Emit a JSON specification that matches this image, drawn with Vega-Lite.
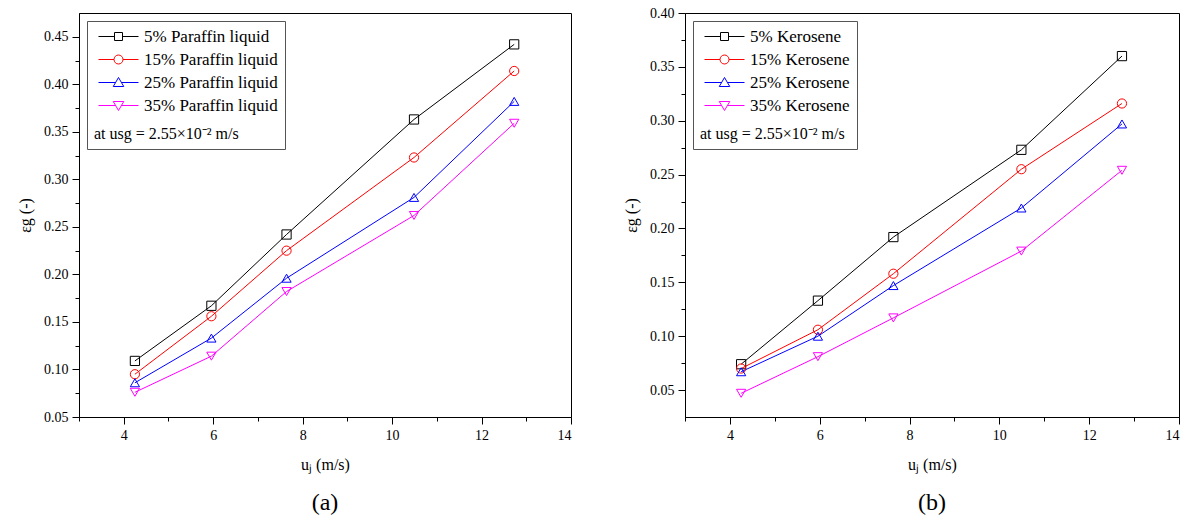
{
  "$schema": "https://vega.github.io/schema/vega-lite/v6.json",
  "padding": {"left": 17, "top": 5, "right": 0, "bottom": 5},
  "background": "white",
  "datasets": {
    "paraffin": [
      {"uj": 4.25, "eg": 0.109, "series": "5% Paraffin liquid"},
      {"uj": 5.96, "eg": 0.167, "series": "5% Paraffin liquid"},
      {"uj": 7.64, "eg": 0.242, "series": "5% Paraffin liquid"},
      {"uj": 10.49, "eg": 0.363, "series": "5% Paraffin liquid"},
      {"uj": 12.73, "eg": 0.442, "series": "5% Paraffin liquid"},
      {"uj": 4.25, "eg": 0.095, "series": "15% Paraffin liquid"},
      {"uj": 5.96, "eg": 0.156, "series": "15% Paraffin liquid"},
      {"uj": 7.64, "eg": 0.225, "series": "15% Paraffin liquid"},
      {"uj": 10.49, "eg": 0.323, "series": "15% Paraffin liquid"},
      {"uj": 12.73, "eg": 0.414, "series": "15% Paraffin liquid"},
      {"uj": 4.25, "eg": 0.086, "series": "25% Paraffin liquid"},
      {"uj": 5.96, "eg": 0.133, "series": "25% Paraffin liquid"},
      {"uj": 7.64, "eg": 0.196, "series": "25% Paraffin liquid"},
      {"uj": 10.49, "eg": 0.281, "series": "25% Paraffin liquid"},
      {"uj": 12.73, "eg": 0.382, "series": "25% Paraffin liquid"},
      {"uj": 4.25, "eg": 0.076, "series": "35% Paraffin liquid"},
      {"uj": 5.96, "eg": 0.114, "series": "35% Paraffin liquid"},
      {"uj": 7.64, "eg": 0.182, "series": "35% Paraffin liquid"},
      {"uj": 10.49, "eg": 0.262, "series": "35% Paraffin liquid"},
      {"uj": 12.73, "eg": 0.359, "series": "35% Paraffin liquid"}
    ],
    "kerosene": [
      {"uj": 4.25, "eg": 0.074, "series": "5% Kerosene"},
      {"uj": 5.96, "eg": 0.133, "series": "5% Kerosene"},
      {"uj": 7.64, "eg": 0.192, "series": "5% Kerosene"},
      {"uj": 10.49, "eg": 0.273, "series": "5% Kerosene"},
      {"uj": 12.73, "eg": 0.360, "series": "5% Kerosene"},
      {"uj": 4.25, "eg": 0.070, "series": "15% Kerosene"},
      {"uj": 5.96, "eg": 0.106, "series": "15% Kerosene"},
      {"uj": 7.64, "eg": 0.158, "series": "15% Kerosene"},
      {"uj": 10.49, "eg": 0.255, "series": "15% Kerosene"},
      {"uj": 12.73, "eg": 0.316, "series": "15% Kerosene"},
      {"uj": 4.25, "eg": 0.067, "series": "25% Kerosene"},
      {"uj": 5.96, "eg": 0.100, "series": "25% Kerosene"},
      {"uj": 7.64, "eg": 0.147, "series": "25% Kerosene"},
      {"uj": 10.49, "eg": 0.219, "series": "25% Kerosene"},
      {"uj": 12.73, "eg": 0.297, "series": "25% Kerosene"},
      {"uj": 4.25, "eg": 0.047, "series": "35% Kerosene"},
      {"uj": 5.96, "eg": 0.081, "series": "35% Kerosene"},
      {"uj": 7.64, "eg": 0.117, "series": "35% Kerosene"},
      {"uj": 10.49, "eg": 0.179, "series": "35% Kerosene"},
      {"uj": 12.73, "eg": 0.254, "series": "35% Kerosene"}
    ]
  },
  "config": {
    "font": "Liberation Serif",
    "view": {"stroke": "black", "strokeWidth": 1},
    "axis": {
      "grid": false,
      "domainColor": "black",
      "domainWidth": 1,
      "tickColor": "black",
      "tickWidth": 1,
      "labelColor": "black",
      "titleColor": "black",
      "labelFont": "Liberation Serif",
      "titleFont": "Liberation Serif",
      "labelFontSize": 14,
      "titleFontSize": 16,
      "titleFontWeight": "normal",
      "labelPadding": 4
    },
    "axisX": {"titlePadding": 14},
    "axisY": {"titlePadding": 10},
    "legend": {
      "orient": "top-left",
      "offset": 8,
      "strokeColor": "#555555",
      "fillColor": "white",
      "padding": 7,
      "labelFont": "Liberation Serif",
      "labelFontSize": 17,
      "labelColor": "black",
      "labelLimit": 300,
      "symbolSize": 100,
      "symbolStrokeWidth": 1,
      "symbolOffset": 16,
      "labelOffset": 17,
      "rowPadding": 5,
      "titleOrient": "bottom",
      "titleFont": "Liberation Serif",
      "titleFontSize": 16,
      "titleFontWeight": "normal",
      "titleColor": "black",
      "titlePadding": 12,
      "titleLimit": 300
    },
    "title": {"font": "Liberation Serif", "fontSize": 24, "fontWeight": "normal", "color": "black", "offset": 19}
  },
  "spacing": 51,
  "hconcat": [
    {
      "width": 492,
      "height": 404,
      "data": {"name": "paraffin"},
      "title": {"text": "(a)", "orient": "bottom"},
      "encoding": {
        "x": {
          "field": "uj", "type": "quantitative",
          "scale": {"domain": [3, 14], "nice": false, "zero": false},
          "axis": {
            "title": "uⱼ (m/s)",
            "values": [3, 4, 5, 6, 7, 8, 9, 10, 11, 12, 13, 14],
            "format": "d",
            "labelExpr": "datum.value % 2 == 0 ? datum.label : ''",
            "tickSize": {"condition": {"test": "datum.value % 2 == 0", "value": 7}, "value": 4}
          }
        },
        "y": {
          "field": "eg", "type": "quantitative",
          "scale": {"domain": [0.05, 0.475], "nice": false, "zero": false},
          "axis": {
            "title": "εg (-)",
            "values": [0.05, 0.075, 0.1, 0.125, 0.15, 0.175, 0.2, 0.225, 0.25, 0.275, 0.3, 0.325, 0.35, 0.375, 0.4, 0.425, 0.45],
            "format": ".2f",
            "labelExpr": "round(datum.value * 1000) % 50 == 0 ? datum.label : ''",
            "tickSize": {"condition": {"test": "round(datum.value * 1000) % 50 == 0", "value": 7}, "value": 4}
          }
        }
      },
      "layer": [
        {
          "mark": {"type": "line", "strokeWidth": 1},
          "encoding": {
            "color": {"field": "series", "type": "nominal",
              "scale": {"domain": ["5% Paraffin liquid", "15% Paraffin liquid", "25% Paraffin liquid", "35% Paraffin liquid"], "range": ["#000000", "#ff0000", "#0000ff", "#ff00ff"]},
              "legend": null},
            "order": {"field": "uj", "type": "quantitative"}
          }
        },
        {
          "mark": {"type": "point", "filled": false, "size": 85, "strokeWidth": 1, "opacity": 1},
          "encoding": {
            "color": {"field": "series", "type": "nominal",
              "scale": {"domain": ["5% Paraffin liquid", "15% Paraffin liquid", "25% Paraffin liquid", "35% Paraffin liquid"], "range": ["#000000", "#ff0000", "#0000ff", "#ff00ff"]},
              "legend": null},
            "shape": {"field": "series", "type": "nominal",
              "scale": {"domain": ["5% Paraffin liquid", "15% Paraffin liquid", "25% Paraffin liquid", "35% Paraffin liquid"], "range": ["square", "circle", "triangle-up", "triangle-down"]},
              "legend": null}
          }
        },
        {
          "transform": [{"filter": "false"}],
          "mark": {"type": "point", "filled": false, "size": 100, "strokeWidth": 1, "opacity": 1},
          "encoding": {
            "color": {"field": "series", "type": "nominal",
              "scale": {"domain": ["5% Paraffin liquid", "15% Paraffin liquid", "25% Paraffin liquid", "35% Paraffin liquid"], "range": ["#000000", "#ff0000", "#0000ff", "#ff00ff"]},
              "legend": {"title": "\u00a0\u00a0at usg = 2.55×10⁻² m/s"}},
            "shape": {"field": "series", "type": "nominal",
              "scale": {"domain": ["5% Paraffin liquid", "15% Paraffin liquid", "25% Paraffin liquid", "35% Paraffin liquid"],
                "range": [
                  "M-4,0H-0.8M0.8,0H4M-0.8,-0.8H0.8V0.8H-0.8Z",
                  "M-4,0H-0.9M0.9,0H4M0.9,0A0.9,0.9 0 1,1 -0.9,0A0.9,0.9 0 1,1 0.9,0Z",
                  "M-4,0H-0.58M0.58,0H4M0,-1L1.05,0.8H-1.05Z",
                  "M-4,0H-0.58M0.58,0H4M0,1L1.05,-0.8H-1.05Z"
                ]},
              "legend": {"title": "\u00a0\u00a0at usg = 2.55×10⁻² m/s"}}
          }
        }
      ],
      "resolve": {"scale": {"color": "independent", "shape": "independent"}}
    },
    {
      "width": 494,
      "height": 404,
      "data": {"name": "kerosene"},
      "title": {"text": "(b)", "orient": "bottom"},
      "encoding": {
        "x": {
          "field": "uj", "type": "quantitative",
          "scale": {"domain": [3, 14], "nice": false, "zero": false},
          "axis": {
            "title": "uⱼ (m/s)",
            "values": [3, 4, 5, 6, 7, 8, 9, 10, 11, 12, 13, 14],
            "format": "d",
            "labelExpr": "datum.value % 2 == 0 ? datum.label : ''",
            "tickSize": {"condition": {"test": "datum.value % 2 == 0", "value": 7}, "value": 4}
          }
        },
        "y": {
          "field": "eg", "type": "quantitative",
          "scale": {"domain": [0.025, 0.4], "nice": false, "zero": false},
          "axis": {
            "title": "εg (-)",
            "values": [0.05, 0.075, 0.1, 0.125, 0.15, 0.175, 0.2, 0.225, 0.25, 0.275, 0.3, 0.325, 0.35, 0.375, 0.4],
            "format": ".2f",
            "labelExpr": "round(datum.value * 1000) % 50 == 0 ? datum.label : ''",
            "tickSize": {"condition": {"test": "round(datum.value * 1000) % 50 == 0", "value": 7}, "value": 4}
          }
        }
      },
      "layer": [
        {
          "mark": {"type": "line", "strokeWidth": 1},
          "encoding": {
            "color": {"field": "series", "type": "nominal",
              "scale": {"domain": ["5% Kerosene", "15% Kerosene", "25% Kerosene", "35% Kerosene"], "range": ["#000000", "#ff0000", "#0000ff", "#ff00ff"]},
              "legend": null},
            "order": {"field": "uj", "type": "quantitative"}
          }
        },
        {
          "mark": {"type": "point", "filled": false, "size": 85, "strokeWidth": 1, "opacity": 1},
          "encoding": {
            "color": {"field": "series", "type": "nominal",
              "scale": {"domain": ["5% Kerosene", "15% Kerosene", "25% Kerosene", "35% Kerosene"], "range": ["#000000", "#ff0000", "#0000ff", "#ff00ff"]},
              "legend": null},
            "shape": {"field": "series", "type": "nominal",
              "scale": {"domain": ["5% Kerosene", "15% Kerosene", "25% Kerosene", "35% Kerosene"], "range": ["square", "circle", "triangle-up", "triangle-down"]},
              "legend": null}
          }
        },
        {
          "transform": [{"filter": "false"}],
          "mark": {"type": "point", "filled": false, "size": 100, "strokeWidth": 1, "opacity": 1},
          "encoding": {
            "color": {"field": "series", "type": "nominal",
              "scale": {"domain": ["5% Kerosene", "15% Kerosene", "25% Kerosene", "35% Kerosene"], "range": ["#000000", "#ff0000", "#0000ff", "#ff00ff"]},
              "legend": {"title": "\u00a0\u00a0at usg = 2.55×10⁻² m/s"}},
            "shape": {"field": "series", "type": "nominal",
              "scale": {"domain": ["5% Kerosene", "15% Kerosene", "25% Kerosene", "35% Kerosene"],
                "range": [
                  "M-4,0H-0.8M0.8,0H4M-0.8,-0.8H0.8V0.8H-0.8Z",
                  "M-4,0H-0.9M0.9,0H4M0.9,0A0.9,0.9 0 1,1 -0.9,0A0.9,0.9 0 1,1 0.9,0Z",
                  "M-4,0H-0.58M0.58,0H4M0,-1L1.05,0.8H-1.05Z",
                  "M-4,0H-0.58M0.58,0H4M0,1L1.05,-0.8H-1.05Z"
                ]},
              "legend": {"title": "\u00a0\u00a0at usg = 2.55×10⁻² m/s"}}
          }
        }
      ],
      "resolve": {"scale": {"color": "independent", "shape": "independent"}}
    }
  ]
}
